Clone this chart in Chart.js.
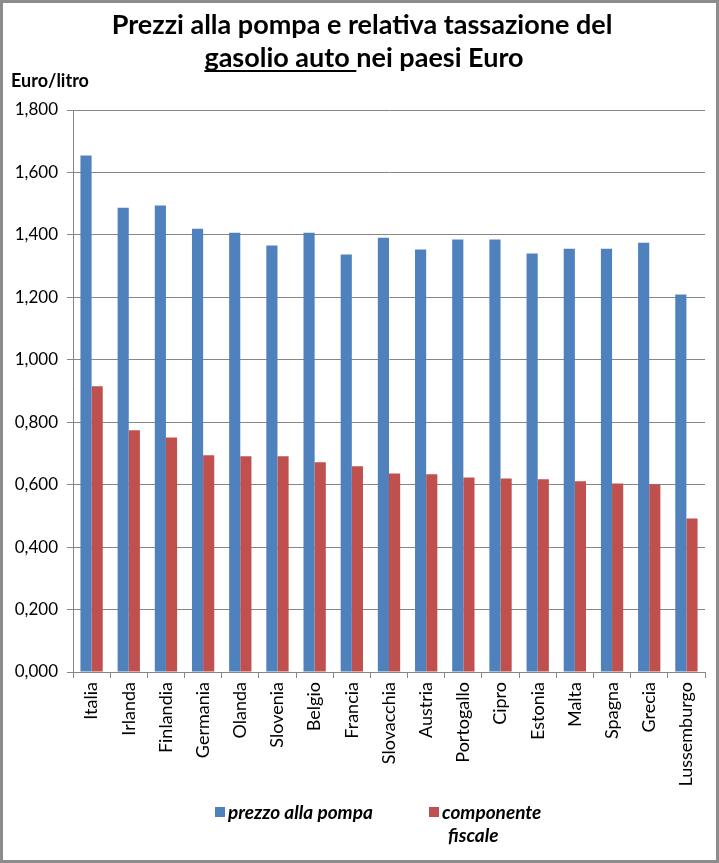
<!DOCTYPE html>
<html>
<head>
<meta charset="utf-8">
<script src="https://cdn.jsdelivr.net/npm/chart.js@4/dist/chart.umd.min.js"></script>
<style>
  body { margin: 0; background: #fff; }
  #wrap { width: 719px; height: 863px; position: relative; }
</style>
</head>
<body>
<div id="wrap"><canvas id="myChart" width="719" height="863"></canvas></div>
<script>
var paesi = ['Italia', 'Irlanda', 'Finlandia', 'Germania', 'Olanda', 'Slovenia', 'Belgio', 'Francia',
    'Slovacchia', 'Austria', 'Portogallo', 'Cipro', 'Estonia', 'Malta', 'Spagna', 'Grecia', 'Lussemburgo'];
var prezzo = [1.654, 1.487, 1.494, 1.420, 1.407, 1.366, 1.407, 1.337,
    1.391, 1.353, 1.385, 1.385, 1.340, 1.356, 1.356, 1.375, 1.209];
var fiscale = [0.915, 0.774, 0.751, 0.694, 0.691, 0.691, 0.672, 0.659,
    0.636, 0.633, 0.623, 0.620, 0.617, 0.611, 0.604, 0.601, 0.492];
var yTicks = [0, 0.2, 0.4, 0.6, 0.8, 1.0, 1.2, 1.4, 1.6, 1.8];
var nomiSerie = ['prezzo alla pompa', 'componente fiscale'];

const BLU = '#4f81bd';
const ROSSO = '#c0504d';
const GRIGIO = '#868686';
const FONT = 'Lato, "Open Sans", sans-serif';

// title, axis label, legend and outer frame
const decorazioni = {
    id: 'decorazioni',
    afterDraw(chart) {
        const ctx = chart.ctx;
        ctx.save();
        ctx.fillStyle = '#000';
        ctx.textBaseline = 'alphabetic';

        // title
        ctx.font = 'bold 27px ' + FONT;
        ctx.textAlign = 'center';
        ctx.fillText('Prezzi alla pompa e relativa tassazione del', 362, 34);
        const parte1 = 'gasolio auto ';
        const parte2 = 'nei paesi Euro';
        const w1 = ctx.measureText(parte1).width;
        const w2 = ctx.measureText(parte2).width;
        const x0 = 364 - (w1 + w2) / 2;
        ctx.textAlign = 'left';
        ctx.fillText(parte1, x0, 67);
        ctx.fillText(parte2, x0 + w1, 67);
        ctx.fillRect(x0, 70, w1, 2);

        // y axis label
        ctx.font = 'bold 18px ' + FONT;
        ctx.fillText('Euro/litro', 11, 87);

        // legend
        ctx.font = 'italic bold 19px ' + FONT;
        ctx.fillStyle = chart.data.datasets[0].backgroundColor;
        ctx.fillRect(215, 807, 10, 10);
        ctx.fillStyle = '#000';
        ctx.fillText(nomiSerie[0], 228, 819);
        ctx.fillStyle = chart.data.datasets[1].backgroundColor;
        ctx.fillRect(429, 807, 10, 10);
        ctx.fillStyle = '#000';
        const parole = nomiSerie[1].split(' ');
        ctx.fillText(parole[0], 442, 819);
        ctx.fillText(parole[1], 448, 842);

        // frame
        ctx.strokeStyle = '#8c8c8c';
        ctx.lineWidth = 3;
        ctx.strokeRect(1.5, 1.5, 716, 860);
        ctx.restore();
    }
};

var ctx = document.getElementById('myChart').getContext('2d');
var chart = new Chart(ctx, {
    type: 'bar',
    data: {
        labels: paesi,
        datasets: [{
            label: nomiSerie[0],
            backgroundColor: BLU,
            data: prezzo
        }, {
            label: nomiSerie[1],
            backgroundColor: ROSSO,
            data: fiscale
        }]
    },
    options: {
        responsive: false,
        animation: false,
        layout: { padding: { top: 110, right: 14, left: 0, bottom: 0 } },
        datasets: { bar: { categoryPercentage: 0.6, barPercentage: 1 } },
        plugins: {
            legend: { display: false },
            title: { display: false },
            tooltip: { enabled: false }
        },
        scales: {
            x: {
                afterFit: (scale) => { scale.height = 191; },
                grid: { drawOnChartArea: false, color: GRIGIO, tickLength: 6, offset: true },
                border: { color: GRIGIO },
                ticks: {
                    color: '#000',
                    font: { family: FONT, size: 18 },
                    padding: 4,
                    minRotation: 90,
                    maxRotation: 90,
                    autoSkip: false
                }
            },
            y: {
                min: 0,
                max: 1.8,
                afterFit: (scale) => { scale.width = 73; },
                afterBuildTicks: (scale) => { scale.ticks = yTicks.map(v => ({ value: v })); },
                grid: { color: GRIGIO, tickLength: 6 },
                border: { color: GRIGIO },
                ticks: {
                    color: '#000',
                    font: { family: FONT, size: 17 },
                    padding: 9,
                    callback: (v) => v.toFixed(3).replace('.', ',')
                }
            }
        }
    },
    plugins: [decorazioni]
});
</script>
</body>
</html>
